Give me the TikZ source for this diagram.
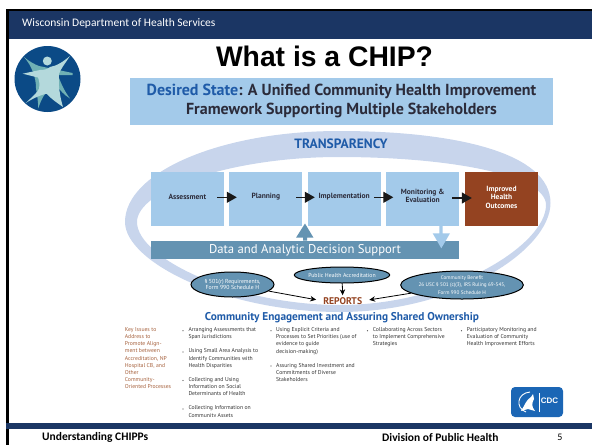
\documentclass[tikz,border=0pt]{standalone}
\usepackage{fontspec}
\setmainfont{PT Sans}
\newfontfamily\arialf{Liberation Sans}
\newfontfamily\calf{Carlito}
\usetikzlibrary{arrows.meta,shapes.geometric}
\definecolor{navy}{HTML}{1B3664}
\definecolor{lblue}{HTML}{A3CAEA}
\definecolor{ring}{HTML}{C8D5EC}
\definecolor{steel}{HTML}{6493B2}
\definecolor{rust}{HTML}{944321}
\definecolor{headblue}{HTML}{1F5BA8}
\definecolor{logoblue}{HTML}{0B4A86}
\definecolor{logolight}{HTML}{B4D9DC}
\definecolor{logomid}{HTML}{6FB0B4}
\definecolor{cdcblue}{HTML}{1B66B5}
\definecolor{inktext}{HTML}{2B2B3A}
\definecolor{keytext}{HTML}{A5603C}
\tikzset{
  stepbox/.style={fill=lblue,minimum width=73pt,minimum height=54.6pt,inner sep=0pt},
  steplabel/.style={inner sep=0pt,align=center,text=inktext,font=\fontsize{7.5}{8.5}\selectfont\bfseries},
  flow/.style={draw=black!90,line width=1.2pt,-{Triangle[length=10pt,width=11pt]}},
  oval/.style={ellipse,draw=black,line width=1pt,fill=steel,text=white,inner sep=0pt,align=center,font=\fontsize{5.8}{6.4}\selectfont},
  feed/.style={draw=black,line width=0.8pt,-{Stealth[length=6pt,width=5.5pt]}},
  bul/.style={anchor=north west,align=left,inner sep=0pt,text=black!80,font=\fontsize{5.7}{7.1}\selectfont},
}
\begin{document}
\begin{tikzpicture}[x=1pt,y=-1pt]
\useasboundingbox (0,0) rectangle (592,445);
% frame
\fill[navy] (9,10) rectangle (592,39);
\fill[black] (6.3,9) rectangle (592,11.3);
\fill[black] (6.3,9) rectangle (9.2,445);
\fill[navy] (6.3,423) rectangle (592,429.3);
\node[anchor=west,text=white,inner sep=0pt,font=\calf\fontsize{11.5}{13}\selectfont] (hdr) at (22,23.5) {Wisconsin Department of Health Services};
\node[inner sep=0pt,font=\arialf\fontsize{28.3}{30}\selectfont\bfseries] (title) at (324.5,56) {What is a CHIP?};
% logo
\fill[logoblue] (47.5,79) circle (33);
\fill[logomid] (24,57) .. controls (30,62) and (34,64) .. (39,66) -- (72.5,73) -- (72.5,75) -- (58,75) .. controls (61,84) and (65,92) .. (70,98.5) .. controls (64,95) and (60,90) .. (56,85) -- (45,94) .. controls (42,98) and (40,103) .. (38.3,108.5) .. controls (38,100) and (37,94) .. (36,88) .. controls (36,78) and (32,66) .. (24,57) -- cycle;
\fill[logolight] (70,56) .. controls (64,65) and (60,70) .. (59,74) .. controls (58,85) and (60,97) .. (63,107) .. controls (56,102) and (50,98) .. (46.7,93.7) .. controls (40,95) and (32,99) .. (25.7,103) .. controls (32,97) and (38,92) .. (39,88.7) .. controls (40,84) and (39,80) .. (38,77.5) -- (22.7,73.7) -- (40,70) .. controls (44,70) and (48,69) .. (50,67) .. controls (57,66) and (64,61) .. (70,56) -- cycle;
\fill[logolight] (47.3,61) circle (4.5);
% banner
\fill[lblue] (130,78) rectangle (553,125);
\node[align=center,inner sep=0pt,text=inktext,font=\fontsize{16}{19}\selectfont\bfseries] (banner) at (341.5,100.5) {\textcolor{headblue}{Desired State}: A Unified Community Health Improvement\\Framework Supporting Multiple Stakeholders};
% ring
\fill[ring,even odd rule]
  (125,222) .. controls (125,172) and (221,131) .. (339,131)
  .. controls (456,131) and (550.5,153) .. (550.5,203)
  .. controls (550.5,250) and (456,312) .. (340,312)
  .. controls (225,312) and (125,262) .. (125,222) -- cycle
  (137,222) .. controls (137,190) and (230,157) .. (339,157)
  .. controls (450,157) and (546,175) .. (546,205)
  .. controls (546,245) and (450,305) .. (340,305)
  .. controls (235,305) and (137,258) .. (137,222) -- cycle;
\node[inner sep=0pt,text=headblue,font=\fontsize{13.5}{15}\selectfont\bfseries] (tr) at (341,144) {TRANSPARENCY};
% data bar
\fill[steel] (150.7,240.7) rectangle (459,259);
\node[inner sep=0pt,text=white,font=\fontsize{12.7}{14}\selectfont] (dabar) at (305,250) {Data and Analytic Decision Support};
% steps
\node[stepbox] (a) at (187.4,199) {};
\node[stepbox] (p) at (265.8,199) {};
\node[stepbox] (i) at (344.2,199) {};
\node[stepbox] (m) at (422.7,199) {};
\node[stepbox,fill=rust] (o) at (501.5,199) {};
\node[steplabel] (al) at (187.4,197) {Assessment};
\node[steplabel] (pl) at (265.8,197) {Planning};
\node[steplabel] (il) at (344.2,197) {Implementation};
\node[steplabel] (ml) at (422.7,196) {Monitoring \&\\Evaluation};
\node[steplabel,text=white] (ol) at (501.5,197) {Improved\\Health\\Outcomes};
\draw[flow] ([xshift=-7pt,yshift=1.7pt]a.east) -- ([xshift=7.7pt,yshift=1.7pt]p.west);
\draw[flow] ([xshift=-6.3pt,yshift=1.7pt]p.east) -- ([xshift=7.3pt,yshift=1.7pt]i.west);
\draw[flow] ([xshift=-6.7pt,yshift=1.7pt]i.east) -- ([xshift=7.3pt,yshift=1.7pt]m.west);
\draw[flow] ([xshift=-7pt,yshift=1pt]m.east) -- ([xshift=7pt,yshift=1pt]o.west);
% feedback arrows
\fill[steel] (303,240.7) -- (303,237.7) -- (296,237.7) -- (305,223.5) -- (313.5,237.7) -- (307,237.7) -- (307,240.7) -- cycle;
\fill[lblue] (439.3,226) -- (442.5,226) -- (442.5,233.3) -- (450,233.3) -- (441.3,248.3) -- (432.7,233.3) -- (439.3,233.3) -- cycle;
% ovals
\node[oval,minimum width=83pt,minimum height=25pt] (o1) at (232.5,284.5) {§ 501(r) Requirements,\\Form 990 Schedule H};
\node[oval,minimum width=82pt,minimum height=16pt] (o2) at (342,275) {Public Health Accreditation};
\node[oval,minimum width=102pt,minimum height=28pt,font=\fontsize{5.2}{7.3}\selectfont] (o3) at (462,285) {Community Benefit\\26 USC  § 501 (c)(3), IRS Ruling 69-545,\\Form 990 Schedule H};
\node[inner sep=0pt,text=rust,font=\fontsize{9.7}{11}\selectfont\bfseries] (rep) at (342.7,301) {REPORTS};
\draw[feed,shorten >=7pt] (o1) -- (rep.west);
\draw[feed,shorten >=2pt] (o2) -- (rep.north);
\draw[feed,shorten >=7pt] (o3) -- (rep.east);
% community
\node[inner sep=0pt,text=headblue,font=\fontsize{11.3}{13}\selectfont\bfseries] (ce) at (342,318) {Community Engagement and Assuring Shared Ownership};
\node[bul,text=keytext] (key) at (124.7,327.5) {Key Issues to\\Address to\\Promote Align-\\ment between\\Accreditation, NP\\Hospital CB, and\\Other\\Community-\\Oriented Processes};
\node[bul] (c1) at (188.3,327.5) {Arranging Assessments that\\Span Jurisdictions};
\node[bul] (c2) at (188.3,348.7) {Using Small Area Analysis to\\Identify Communities with\\Health Disparities};
\node[bul] (c3) at (188.3,377.2) {Collecting and Using\\Information on Social\\Determinants of Health};
\begin{scope}
\clip (180,400) rectangle (300,416);
\node[bul] (c4) at (188.3,405.7) {Collecting Information on\\Community Assets};
\end{scope}
\node[bul] (d1) at (276,327.5) {Using Explicit Criteria and\\Processes to Set Priorities (use of\\evidence to guide\\decision-making)};
\node[bul] (d2) at (276,363) {Assuring Shared Investment and\\Commitments of Diverse\\Stakeholders};
\node[bul] (e1) at (372.7,327.5) {Collaborating Across Sectors\\to Implement Comprehensive\\Strategies};
\node[bul] (f1) at (466.7,327.5) {Participatory Monitoring and\\Evaluation of Community\\Health Improvement Efforts};
\foreach \px/\py in {183/330.7,183/352,183/380.5,183/409,271/330.7,271/366,367.5/330.7,461.5/330.7}
  \fill[black!70] (\px,\py) circle (0.6);
% CDC
\fill[cdcblue,rounded corners=4pt] (511,387) rectangle (563,417);
\draw[white,line width=0.9pt] (530,392) .. controls (517,393) and (515,408) .. (526,412);
\fill[white] (521,411) .. controls (525,405) and (526,400) .. (531,397) -- (533,394) -- (534,399) .. controls (532,403) and (531,406) .. (535,411) -- (528,409) -- cycle;
\draw[white,line width=0.4pt] (539,393) -- (539,412);
\node[inner sep=0pt,text=white,font=\arialf\fontsize{8}{9}\selectfont\bfseries] (cdc) at (549.5,401) {CDC};
% footer
\node[anchor=west,inner sep=0pt,font=\calf\fontsize{11.5}{13}\selectfont\bfseries] (f1t) at (42,437) {Understanding CHIPPs};
\node[anchor=west,inner sep=0pt,font=\calf\fontsize{11.5}{13}\selectfont\bfseries] (f2t) at (382,437) {Division of Public Health};
\node[inner sep=0pt,font=\calf\fontsize{10}{12}\selectfont] (pg) at (560,437.5) {5};
\end{tikzpicture}
\end{document}
